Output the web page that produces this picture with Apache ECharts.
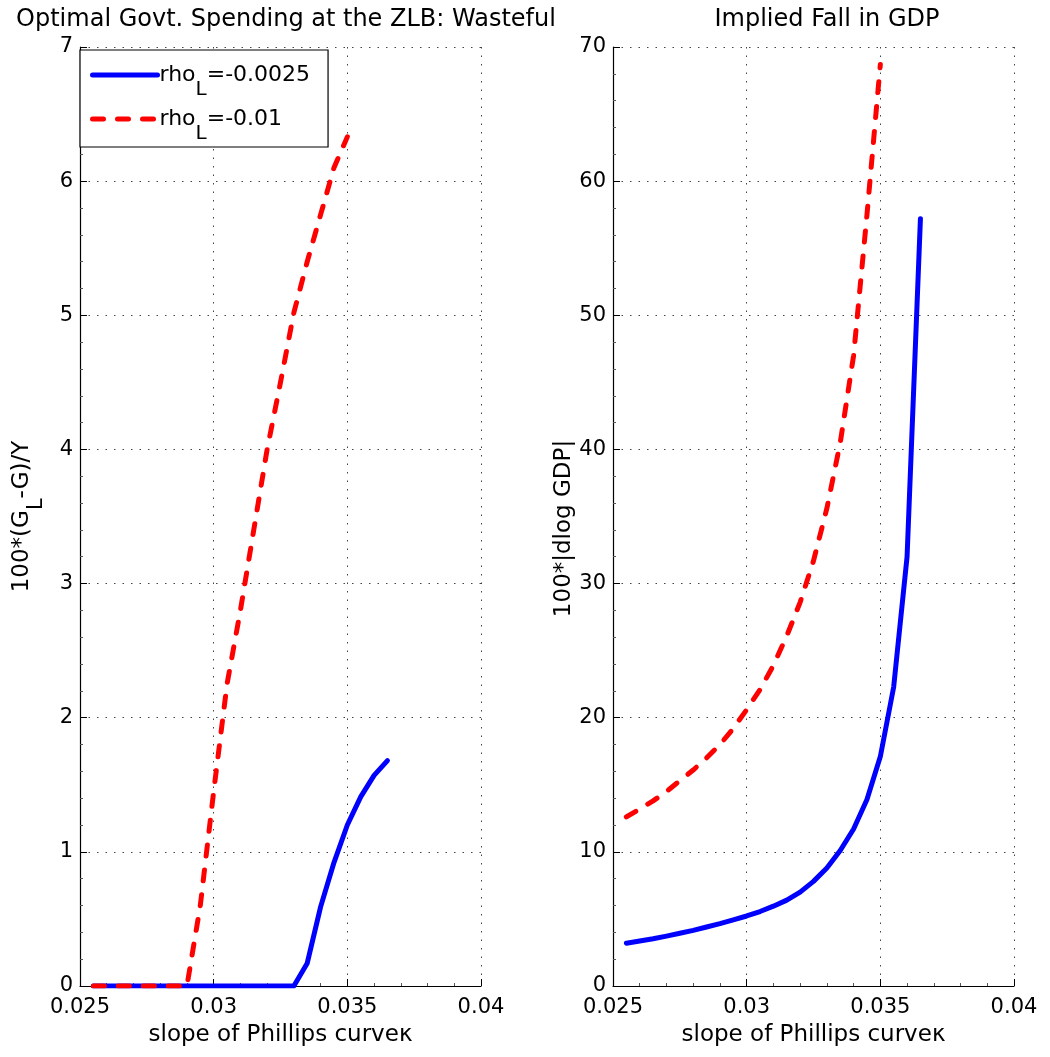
<!DOCTYPE html>
<html>
<head>
<meta charset="utf-8">
<script src="https://cdn.jsdelivr.net/npm/echarts@6/dist/echarts.min.js"></script>
<style>
html,body{margin:0;padding:0;background:#fff;}
#chart{width:1050px;height:1057px;}
</style>
</head>
<body>
<div id="chart"></div>
<script>
// kappa grid (slope of Phillips curve)
const kappa = [0.0255,0.026,0.0265,0.027,0.0275,0.028,0.0285,0.029,0.0295,0.03,
               0.0305,0.031,0.0315,0.032,0.0325,0.033,0.0335,0.034,0.0345,0.035,
               0.0355,0.036,0.0365];
// Left panel: 100*(G_L - G)/Y
const spendBlue = [0,0,0,0,0,0,0,0,0,0,0,0,0,0,0,0,0.17,0.59,0.92,1.2,1.41,1.57,1.68];
const spendRed  = [0,0,0,0,0,0,0,0,0.6,1.45,2.25,2.8,3.4,4.0,4.5,5.02,5.4,5.75,6.1,6.33];
// Right panel: 100*|dlog GDP|
const gdpBlue = [3.19,3.35,3.52,3.72,3.93,4.15,4.4,4.65,4.93,5.22,5.55,5.95,6.4,7.0,7.8,8.8,10.1,11.7,13.9,17.1,22.3,32.0,57.2];
const gdpRed  = [12.6,13.2,13.8,14.5,15.3,16.1,17.0,18.0,19.2,20.6,22.1,23.9,26.1,28.6,31.7,35.6,40.5,47.0,57.5,68.7];

const nameBlue = 'rhoL=-0.0025';
const nameRed = 'rhoL=-0.01';
const xTicks = {min:0.025, max:0.04, interval:0.005};
const leftY = {min:0, max:7, interval:1};
const rightY = {min:0, max:70, interval:10};

function pairs(xs, ys){ return ys.map((v,i)=>[xs[i], v]); }

const FONT = 'DejaVu Sans';
const gridLine = {show:true, lineStyle:{type:[1.5,7], color:'#444', width:1}};
function xAxis(gi){
  return {type:'value', gridIndex:gi, min:xTicks.min, max:xTicks.max, interval:xTicks.interval,
    name:'slope of Phillips curveκ', nameLocation:'middle', nameGap:38,
    nameTextStyle:{fontFamily:FONT, fontSize:23, color:'#000'},
    axisLine:{show:true, onZero:false, lineStyle:{color:'#000', width:1.2}},
    axisTick:{show:true, inside:true, length:7, lineStyle:{color:'#000'}},
    minorTick:{show:true, splitNumber:5, length:3, lineStyle:{color:'#555'}},
    axisLabel:{fontFamily:FONT, fontSize:21, color:'#000', margin:11,
      formatter:v=>String(+v.toFixed(4))},
    splitLine:gridLine};
}
function yAxis(gi, r, nm, gap, pad){
  return {type:'value', gridIndex:gi, min:r.min, max:r.max, interval:r.interval,
    name:nm, nameLocation:'middle', nameGap:gap, nameRotate:90,
    nameTextStyle:{fontFamily:FONT, fontSize:23, color:'#000', padding:pad,
      rich:{sub:{fontFamily:FONT, fontSize:21, color:'#000', padding:[28,0,0,0]}}},
    axisLine:{show:true, lineStyle:{color:'#000', width:1.2}},
    axisTick:{show:true, inside:true, length:7, lineStyle:{color:'#000'}},
    minorTick:{show:true, splitNumber:5, length:3, lineStyle:{color:'#555'}},
    axisLabel:{fontFamily:FONT, fontSize:21, color:'#000', margin:7},
    splitLine:gridLine};
}
function line(name, gi, data, color, dashed){
  return {type:'line', name:name, xAxisIndex:gi, yAxisIndex:gi, data:data,
    symbol:'none', showSymbol:false, smooth:false, animation:false,
    lineStyle:{color:color, width:5, type: dashed ? [11,14] : 'solid', cap:'round', join:'round'},
    itemStyle:{color:color}};
}

const chart = echarts.init(document.getElementById('chart'), null, {renderer:'canvas'});
chart.setOption({
  backgroundColor:'#fff',
  animation:false,
  title:[
    {text:'Optimal Govt. Spending at the ZLB: Wasteful', left:281, top:3, textAlign:'center',
     textStyle:{fontFamily:FONT, fontSize:24, fontWeight:'normal', color:'#000'}},
    {text:'Implied Fall in GDP', left:822, top:3, textAlign:'center',
     textStyle:{fontFamily:FONT, fontSize:24, fontWeight:'normal', color:'#000'}}
  ],
  grid:[
    {left:80, right:569, top:47, bottom:71},
    {left:613, right:36, top:47, bottom:71}
  ],
  xAxis:[xAxis(0), xAxis(1)],
  yAxis:[yAxis(0, leftY, '100*(G{sub|L}-G)/Y', 33, [0,0,0,0]),
         yAxis(1, rightY, '100*|dlog GDP|', 37, [0,24,0,0])],
  legend:{
    left:80, top:50, orient:'vertical', backgroundColor:'#fff',
    borderColor:'#000', borderWidth:1.2, borderRadius:0,
    padding:[14,18,3,10], itemGap:8, itemWidth:65, itemHeight:20,
    data:[nameBlue, nameRed],
    itemStyle:{opacity:0},
    lineStyle:{width:5},
    formatter:function(n){ return n === nameBlue ? 'rho{sub|L}=-0.0025' : 'rho{sub|L}=-0.01'; },
    textStyle:{fontFamily:FONT, fontSize:22, color:'#000', padding:[0,0,0,-3],
      rich:{sub:{fontFamily:FONT, fontSize:20, color:'#000', padding:[30,0,0,0]}}}
  },
  series:[
    line(nameBlue, 0, pairs(kappa, spendBlue), '#0000ff', false),
    line(nameRed, 0, pairs(kappa, spendRed), '#ff0000', true),
    line(nameBlue, 1, pairs(kappa, gdpBlue), '#0000ff', false),
    line(nameRed, 1, pairs(kappa, gdpRed), '#ff0000', true)
  ]
});
</script>
</body>
</html>
